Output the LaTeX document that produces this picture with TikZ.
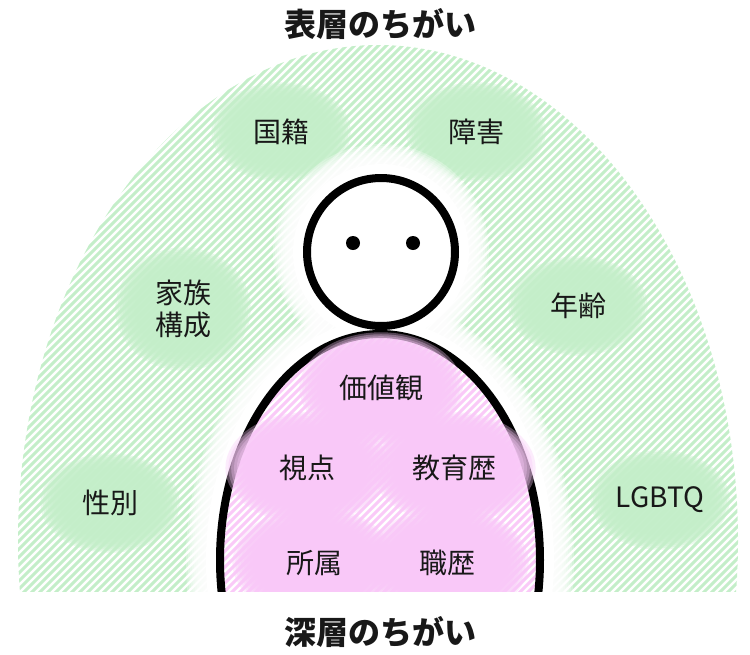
\documentclass[tikz,border=0pt]{standalone}
\usepackage{fontspec}
\newfontfamily\jp{Noto Sans CJK JP}

\definecolor{leafstripe}{RGB}{196,238,201}
\definecolor{leafblob}{RGB}{196,239,202}
\definecolor{rosestripe}{RGB}{250,202,248}
\definecolor{roseblob}{RGB}{249,200,248}
\definecolor{inktext}{RGB}{24,24,24}

\tikzset{
  tagtext/.style={font=\jp\fontsize{28}{32}\selectfont, text=inktext, align=center, inner sep=0pt},
  headline/.style={font=\jp\bfseries\fontsize{32}{36}\selectfont, text=inktext, inner sep=0pt},
  halo/.style={fill=white, opacity=0.28},
  outline/.style={draw=black, line width=8pt},
}

% soft blob: stacked translucent ellipses, dense core and feathered rim
% #1 colour, #2 centre, #3 x radius, #4 y radius
\newcommand{\softblob}[4]{%
  \foreach \s in {0.68,0.715,...,1.0}
    \fill[#1, opacity=0.34] (#2) ellipse [x radius={#3*\s*1pt}, y radius={#4*\s*1pt}];
}

\begin{document}
\begin{tikzpicture}[x=1pt, y=-1pt]
\useasboundingbox (0,0) rectangle (750,654);

% anchor points of the labels
\coordinate (pKokuseki) at (281,132);
\coordinate (pShogai) at (476,132);
\coordinate (pKazoku) at (183,309);
\coordinate (pNenrei) at (578,306);
\coordinate (pSeibetsu) at (110,503);
\coordinate (pLgbtq) at (660,500);
\coordinate (pKachikan) at (381,388);
\coordinate (pShiten) at (307,468);
\coordinate (pKyoiku) at (454,468);
\coordinate (pShozoku) at (314,563);
\coordinate (pShokureki) at (447,563);
\coordinate (headc) at (381,252);
\coordinate (bodyc) at (380,560);
\coordinate (domec) at (378,540);

\begin{scope}
  \clip (0,0) rectangle (750,591);

  % outer dome with green hatching
  \begin{scope}
    \clip (domec) ellipse [x radius=360pt, y radius=495pt];
    \foreach \c in {0,8,...,1416}
      \draw[leafstripe, line width=2.9pt] (\c,0) -- (\c-660,660);
  \end{scope}

  % surface-level blobs
  \foreach \p in {pKokuseki,pShogai,pNenrei,pSeibetsu,pLgbtq}
    \softblob{leafblob}{\p}{70}{50};
  \softblob{leafblob}{pKazoku}{68}{62};

  % white glow around the figure
  \foreach \w in {12,14,...,30} {
    \fill[halo] (headc) circle [radius={(78+\w)*1pt}];
    \fill[halo] (bodyc) ellipse [x radius={(164+\w)*1pt}, y radius={(230+\w)*1pt}];
  }
  \fill[white] (headc) circle [radius=88pt];
  \fill[white] (bodyc) ellipse [x radius=174pt, y radius=240pt];

  % body with pink hatching
  \begin{scope}
    \clip (bodyc) ellipse [x radius=160pt, y radius=226pt];
    \foreach \c in {0,8,...,1416}
      \draw[rosestripe, line width=2.9pt] (\c,0) -- (\c-660,660);
  \end{scope}
  \draw[outline] (bodyc) ellipse [x radius=160pt, y radius=226pt];

  % deep-level blobs
  \foreach \p in {pKachikan,pShiten,pKyoiku,pShozoku,pShokureki}
    \softblob{roseblob}{\p}{82}{56};
\end{scope}

% head
\draw[outline, fill=white] (headc) circle [radius=74pt];
\fill[black] (353,243) circle [radius=7pt];
\fill[black] (413,243) circle [radius=7pt];

% labels
\node[tagtext] (kokuseki) at (pKokuseki) {国籍};
\node[tagtext] (shogai) at (pShogai) {障害};
\node[tagtext] (kazoku) at (pKazoku) {家族\\構成};
\node[tagtext] (nenrei) at (pNenrei) {年齢};
\node[tagtext] (seibetsu) at (pSeibetsu) {性別};
\node[tagtext] (lgbtq) at (pLgbtq) {LGBTQ};
\node[tagtext] (kachikan) at (pKachikan) {価値観};
\node[tagtext] (shiten) at (pShiten) {視点};
\node[tagtext] (kyoiku) at (pKyoiku) {教育歴};
\node[tagtext] (shozoku) at (pShozoku) {所属};
\node[tagtext] (shokureki) at (pShokureki) {職歴};

% headings
\node[headline] (surface) at (380,24) {表層のちがい};
\node[headline] (deep) at (380,632) {深層のちがい};
\end{tikzpicture}
\end{document}
